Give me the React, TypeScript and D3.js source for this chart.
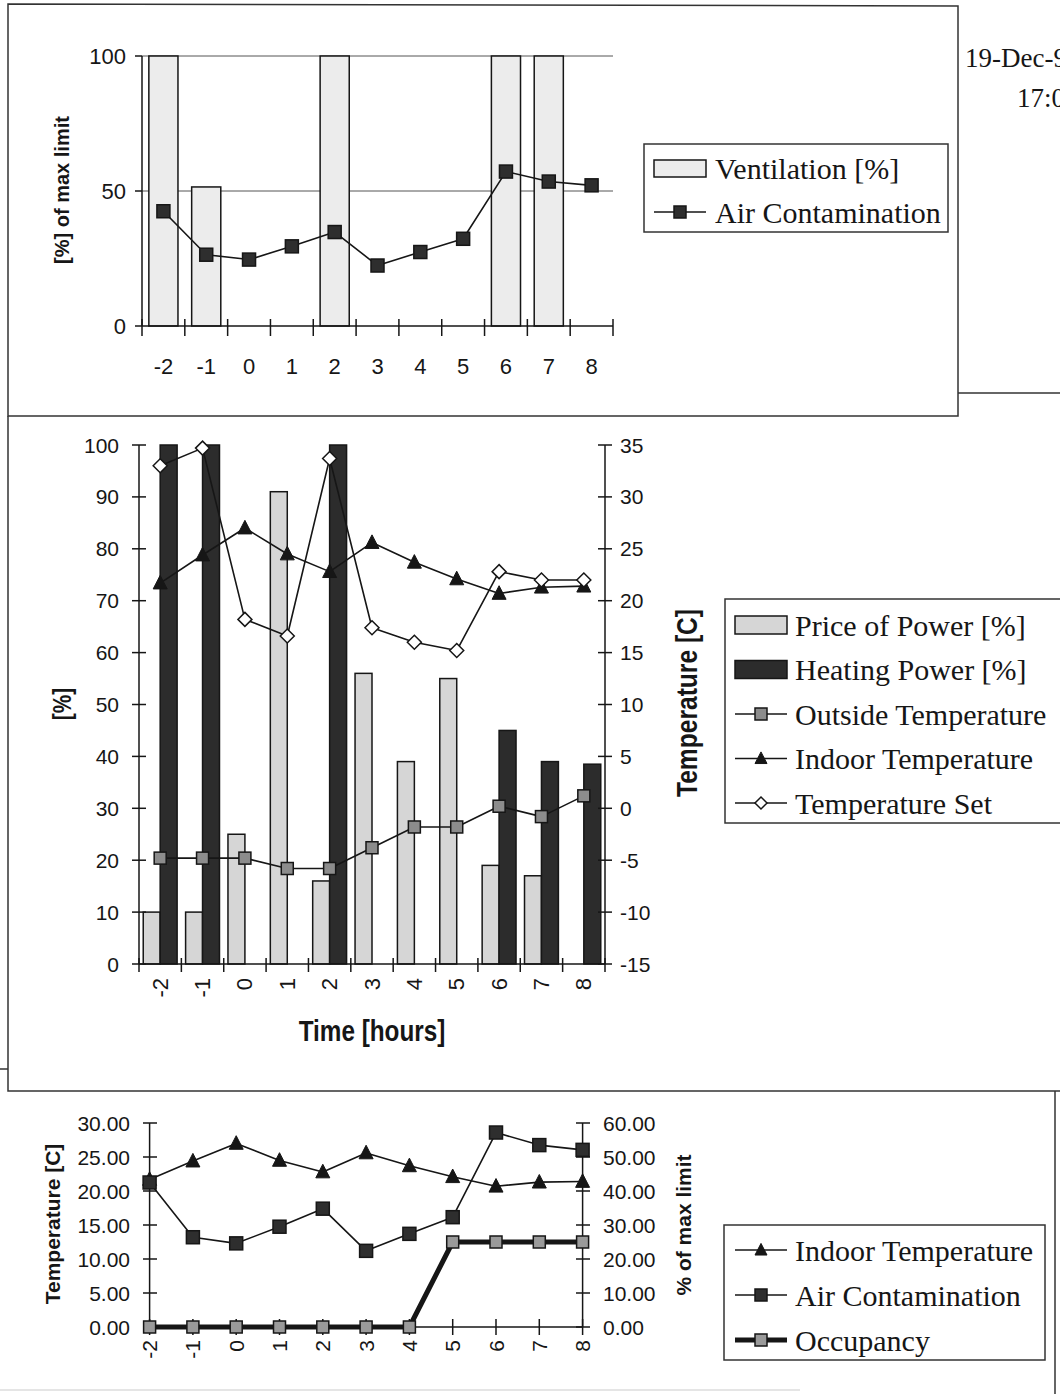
import { useEffect, useRef } from 'react';
import * as d3 from 'd3';

const hours = ['-2', '-1', '0', '1', '2', '3', '4', '5', '6', '7', '8'];

// top panel: ventilation vs air contamination
const ventilation = [100, 51.5, 0, 0, 100, 0, 0, 0, 100, 100, 0];
const airContamination = [42.5, 26.4, 24.6, 29.5, 34.8, 22.4, 27.4, 32.3, 57.2, 53.5, 52.1];
const topTicks = [0, 50, 100];

// middle panel: power bars + temperatures
const pricePower = [10, 10, 25, 91, 16, 56, 39, 55, 19, 17, 0];
const heatingPower = [100, 100, 0, 0, 100, 0, 0, 0, 45, 39, 38.5];
const outsideTemp = [-4.8, -4.8, -4.8, -5.8, -5.8, -3.8, -1.8, -1.8, 0.2, -0.8, 1.2];
const indoorTemp = [21.7, 24.4, 27.0, 24.5, 22.8, 25.6, 23.7, 22.1, 20.7, 21.3, 21.4];
const tempSet = [33.0, 34.7, 18.2, 16.6, 33.7, 17.4, 16.0, 15.2, 22.8, 22.0, 22.0];
const midLeftTicks = [0, 10, 20, 30, 40, 50, 60, 70, 80, 90, 100];
const midRightTicks = [-15, -10, -5, 0, 5, 10, 15, 20, 25, 30, 35];

// bottom panel: indoor temp, contamination, occupancy
const occupancy = [0, 0, 0, 0, 0, 0, 0, 25, 25, 25, 25];
const botLeftTicks = [0, 5, 10, 15, 20, 25, 30];
const botRightTicks = [0, 10, 20, 30, 40, 50, 60];

const SANS = "'Liberation Sans', Arial, sans-serif";
const SERIF = "'Liberation Serif', 'Times New Roman', serif";
const INK = '#161616';

type G = d3.Selection<SVGGElement, unknown, null, undefined>;

function marker(g: G, type: string, x: number, y: number, s: number, fill: string) {
  if (type === 'square') {
    g.append('rect')
      .attr('x', x - s / 2).attr('y', y - s / 2)
      .attr('width', s).attr('height', s)
      .attr('fill', fill).attr('stroke', INK).attr('stroke-width', 1.5);
  } else if (type === 'triangle') {
    g.append('path')
      .attr('d', `M${x},${y - s * 0.55}L${x + s / 2},${y + s * 0.42}L${x - s / 2},${y + s * 0.42}Z`)
      .attr('fill', fill).attr('stroke', INK).attr('stroke-width', 1);
  } else if (type === 'diamond') {
    g.append('path')
      .attr('d', `M${x},${y - s / 2}L${x + s / 2},${y}L${x},${y + s / 2}L${x - s / 2},${y}Z`)
      .attr('fill', fill).attr('stroke', INK).attr('stroke-width', 1.5);
  }
}

function series(g: G, xs: number[], ys: number[], type: string, size: number, fill: string, width = 1.6) {
  const pts = xs.map((x, i) => [x, ys[i]] as [number, number]);
  g.append('path')
    .attr('d', d3.line()(pts))
    .attr('fill', 'none').attr('stroke', INK).attr('stroke-width', width)
    .attr('stroke-linejoin', 'round');
  pts.forEach(([x, y]) => marker(g, type, x, y, size, fill));
}

function legendBox(g: G, x: number, y: number, w: number, h: number) {
  g.append('rect').attr('x', x).attr('y', y).attr('width', w).attr('height', h)
    .attr('fill', 'white').attr('stroke', '#333').attr('stroke-width', 1.5);
}

function legendText(g: G, x: number, y: number, label: string) {
  g.append('text').attr('x', x).attr('y', y).attr('dominant-baseline', 'central')
    .attr('font-family', SERIF).attr('font-size', 30).attr('fill', INK).text(label);
}

function legendLine(g: G, y: number, type: string, fill: string, width = 1.6) {
  g.append('line').attr('x1', 735).attr('x2', 787).attr('y1', y).attr('y2', y)
    .attr('stroke', INK).attr('stroke-width', width);
  marker(g, type, 761, y, 12, fill);
}

// bold axis title; squeeze < 1 narrows the glyphs along the text direction
function title(g: G, x: number, y: number, label: string, size: number, rotate: boolean, squeeze = 1) {
  g.append('text')
    .attr('transform', `translate(${x},${y})${rotate ? ' rotate(-90)' : ''} scale(${squeeze},1)`)
    .attr('text-anchor', 'middle').attr('dominant-baseline', 'central')
    .attr('font-family', SANS).attr('font-weight', 'bold').attr('font-size', size)
    .attr('fill', INK).text(label);
}

export default function App() {
  const ref = useRef<SVGSVGElement>(null);
  const width = 1060;
  const height = 1394;

  useEffect(() => {
    if (!ref.current) return;
    const svg = d3.select(ref.current);
    svg.selectAll('*').remove();
    const root = svg.append('g') as unknown as G;

    root.append('rect').attr('width', width).attr('height', height).attr('fill', 'white');

    // panel frames
    const frame = root.append('g').attr('fill', 'none').attr('stroke', '#333').attr('stroke-width', 1.5);
    frame.append('path').attr('d', 'M8,416L8,1091L1060,1091');
    frame.append('path').attr('d', 'M958,393L1060,393');
    frame.append('path').attr('d', 'M0,1069L8,1069');
    frame.append('path').attr('d', 'M1055,1091L1055,1394');
    frame.append('path').attr('d', 'M0,1390L800,1390').attr('stroke', '#ddd');
    frame.append('path').attr('d', 'M8,4L958,6L958,416L8,416Z');

    // date stamp (runs off the right edge, as in the scan)
    root.append('text').attr('x', 965).attr('y', 67).attr('font-family', SERIF)
      .attr('font-size', 27).attr('fill', INK).text('19-Dec-9');
    root.append('text').attr('x', 1017).attr('y', 107).attr('font-family', SERIF)
      .attr('font-size', 27).attr('fill', INK).text('17:0');

    // ---------- top panel ----------
    const gT = root.append('g') as unknown as G;
    const xT = d3.scaleBand<string>().domain(hours).range([142, 613]).paddingInner(0.32).paddingOuter(0.16);
    const yT = d3.scaleLinear().domain([0, 100]).range([326, 56]);
    const cT = (h: string) => (xT(h) as number) + xT.bandwidth() / 2;

    topTicks.filter(t => t > 0).forEach(t => {
      gT.append('line').attr('x1', 142).attr('x2', 613).attr('y1', yT(t)).attr('y2', yT(t))
        .attr('stroke', '#555').attr('stroke-width', 1);
    });
    hours.forEach((h, i) => {
      if (!ventilation[i]) return;
      gT.append('rect').attr('x', xT(h) as number).attr('y', yT(ventilation[i]))
        .attr('width', xT.bandwidth()).attr('height', yT(0) - yT(ventilation[i]))
        .attr('fill', '#ececec').attr('stroke', INK).attr('stroke-width', 1.5);
    });
    gT.append('line').attr('x1', 142).attr('x2', 142).attr('y1', 56).attr('y2', 326).attr('stroke', INK).attr('stroke-width', 1.5);
    gT.append('line').attr('x1', 142).attr('x2', 613).attr('y1', 326).attr('y2', 326).attr('stroke', INK).attr('stroke-width', 1.5);
    topTicks.forEach(t => {
      gT.append('line').attr('x1', 135).attr('x2', 142).attr('y1', yT(t)).attr('y2', yT(t)).attr('stroke', INK).attr('stroke-width', 1.5);
      gT.append('text').attr('x', 126).attr('y', yT(t)).attr('text-anchor', 'end').attr('dominant-baseline', 'central')
        .attr('font-family', SANS).attr('font-size', 22).attr('fill', INK).text(t);
    });
    d3.range(hours.length + 1).forEach(i => {
      const x = 142 + i * xT.step();
      gT.append('line').attr('x1', x).attr('x2', x).attr('y1', 319).attr('y2', 336).attr('stroke', INK).attr('stroke-width', 1.5);
    });
    hours.forEach(h => {
      gT.append('text').attr('x', cT(h)).attr('y', 366).attr('text-anchor', 'middle').attr('dominant-baseline', 'central')
        .attr('font-family', SANS).attr('font-size', 22).attr('fill', INK).text(h);
    });
    series(gT, hours.map(cT), airContamination.map(v => yT(v)), 'square', 13, '#2e2e2e');
    title(gT, 62, 190, '[%] of max limit', 20, true);

    legendBox(gT, 644, 144, 304, 88);
    gT.append('rect').attr('x', 654).attr('y', 160).attr('width', 52).attr('height', 17)
      .attr('fill', '#ececec').attr('stroke', INK).attr('stroke-width', 1.5);
    legendText(gT, 715, 168, 'Ventilation [%]');
    gT.append('line').attr('x1', 654).attr('x2', 706).attr('y1', 212).attr('y2', 212).attr('stroke', INK).attr('stroke-width', 1.6);
    marker(gT, 'square', 680, 212, 12, '#2e2e2e');
    legendText(gT, 715, 212, 'Air Contamination');

    // ---------- middle panel ----------
    const gM = root.append('g') as unknown as G;
    const xM = d3.scaleBand<string>().domain(hours).range([139, 605]).paddingInner(0.2).paddingOuter(0.1);
    const xSub = d3.scaleBand<string>().domain(['price', 'heating']).range([0, xM.bandwidth()]);
    const yML = d3.scaleLinear().domain([0, 100]).range([964, 445]);
    const yMR = d3.scaleLinear().domain([-15, 35]).range([964, 445]);
    const cM = (h: string) => (xM(h) as number) + xM.bandwidth() / 2;

    hours.forEach((h, i) => {
      const x0 = xM(h) as number;
      if (pricePower[i]) {
        gM.append('rect').attr('x', x0 + (xSub('price') as number)).attr('y', yML(pricePower[i]))
          .attr('width', xSub.bandwidth()).attr('height', yML(0) - yML(pricePower[i]))
          .attr('fill', '#d6d6d6').attr('stroke', INK).attr('stroke-width', 1.5);
      }
      if (heatingPower[i]) {
        gM.append('rect').attr('x', x0 + (xSub('heating') as number)).attr('y', yML(heatingPower[i]))
          .attr('width', xSub.bandwidth()).attr('height', yML(0) - yML(heatingPower[i]))
          .attr('fill', '#2c2c2c').attr('stroke', INK).attr('stroke-width', 1.5);
      }
    });

    gM.append('line').attr('x1', 139).attr('x2', 139).attr('y1', 445).attr('y2', 964).attr('stroke', INK).attr('stroke-width', 1.5);
    gM.append('line').attr('x1', 605).attr('x2', 605).attr('y1', 445).attr('y2', 964).attr('stroke', INK).attr('stroke-width', 1.5);
    gM.append('line').attr('x1', 139).attr('x2', 605).attr('y1', 964).attr('y2', 964).attr('stroke', INK).attr('stroke-width', 1.5);
    midLeftTicks.forEach(t => {
      gM.append('line').attr('x1', 132).attr('x2', 146).attr('y1', yML(t)).attr('y2', yML(t)).attr('stroke', INK).attr('stroke-width', 1.5);
      gM.append('text').attr('x', 119).attr('y', yML(t)).attr('text-anchor', 'end').attr('dominant-baseline', 'central')
        .attr('font-family', SANS).attr('font-size', 21).attr('fill', INK).text(t);
    });
    midRightTicks.forEach(t => {
      gM.append('line').attr('x1', 598).attr('x2', 612).attr('y1', yMR(t)).attr('y2', yMR(t)).attr('stroke', INK).attr('stroke-width', 1.5);
      gM.append('text').attr('x', 620).attr('y', yMR(t)).attr('dominant-baseline', 'central')
        .attr('font-family', SANS).attr('font-size', 21).attr('fill', INK).text(t);
    });
    d3.range(hours.length + 1).forEach(i => {
      const x = 139 + i * xM.step();
      gM.append('line').attr('x1', x).attr('x2', x).attr('y1', 958).attr('y2', 972).attr('stroke', INK).attr('stroke-width', 1.5);
    });
    hours.forEach(h => {
      gM.append('text').attr('transform', `translate(${cM(h)},978) rotate(-90)`)
        .attr('text-anchor', 'end').attr('dominant-baseline', 'central')
        .attr('font-family', SANS).attr('font-size', 22).attr('fill', INK).text(h);
    });

    series(gM, hours.map(cM), outsideTemp.map(v => yMR(v)), 'square', 12, '#8c8c8c');
    series(gM, hours.map(cM), indoorTemp.map(v => yMR(v)), 'triangle', 14, INK);
    series(gM, hours.map(cM), tempSet.map(v => yMR(v)), 'diamond', 14, 'white');

    title(gM, 372, 1031, 'Time [hours]', 30, false, 0.81);
    title(gM, 62, 704, '[%]', 26, true, 0.8);
    title(gM, 687, 703, 'Temperature [C]', 30, true, 0.82);

    legendBox(gM, 725, 599, 360, 224);
    const midLegendY = [625, 669.5, 714, 758.5, 803];
    gM.append('rect').attr('x', 735).attr('y', midLegendY[0] - 9).attr('width', 52).attr('height', 18)
      .attr('fill', '#d6d6d6').attr('stroke', INK).attr('stroke-width', 1.5);
    legendText(gM, 795, midLegendY[0], 'Price of Power [%]');
    gM.append('rect').attr('x', 735).attr('y', midLegendY[1] - 9).attr('width', 52).attr('height', 18)
      .attr('fill', '#2c2c2c').attr('stroke', INK).attr('stroke-width', 1.5);
    legendText(gM, 795, midLegendY[1], 'Heating Power [%]');
    legendLine(gM, midLegendY[2], 'square', '#8c8c8c');
    legendText(gM, 795, midLegendY[2], 'Outside Temperature');
    legendLine(gM, midLegendY[3], 'triangle', INK);
    legendText(gM, 795, midLegendY[3], 'Indoor Temperature');
    legendLine(gM, midLegendY[4], 'diamond', 'white');
    legendText(gM, 795, midLegendY[4], 'Temperature Set');

    // ---------- bottom panel ----------
    const gB = root.append('g') as unknown as G;
    const xB = d3.scalePoint<string>().domain(hours).range([149.6, 582.6]);
    const yBL = d3.scaleLinear().domain([0, 30]).range([1327, 1123]);
    const yBR = d3.scaleLinear().domain([0, 60]).range([1327, 1123]);

    gB.append('line').attr('x1', 149.6).attr('x2', 149.6).attr('y1', 1123).attr('y2', 1327).attr('stroke', INK).attr('stroke-width', 1.5);
    gB.append('line').attr('x1', 582.6).attr('x2', 582.6).attr('y1', 1123).attr('y2', 1327).attr('stroke', INK).attr('stroke-width', 1.5);
    gB.append('line').attr('x1', 149.6).attr('x2', 582.6).attr('y1', 1327).attr('y2', 1327).attr('stroke', INK).attr('stroke-width', 1.5);
    botLeftTicks.forEach(t => {
      gB.append('line').attr('x1', 143).attr('x2', 157).attr('y1', yBL(t)).attr('y2', yBL(t)).attr('stroke', INK).attr('stroke-width', 1.5);
      gB.append('text').attr('x', 130).attr('y', yBL(t)).attr('text-anchor', 'end').attr('dominant-baseline', 'central')
        .attr('font-family', SANS).attr('font-size', 21).attr('fill', INK).text(d3.format('.2f')(t));
    });
    botRightTicks.forEach(t => {
      gB.append('line').attr('x1', 576).attr('x2', 590).attr('y1', yBR(t)).attr('y2', yBR(t)).attr('stroke', INK).attr('stroke-width', 1.5);
      gB.append('text').attr('x', 603).attr('y', yBR(t)).attr('dominant-baseline', 'central')
        .attr('font-family', SANS).attr('font-size', 21).attr('fill', INK).text(d3.format('.2f')(t));
    });
    hours.forEach(h => {
      const x = xB(h) as number;
      gB.append('line').attr('x1', x).attr('x2', x).attr('y1', 1319).attr('y2', 1335).attr('stroke', INK).attr('stroke-width', 1.5);
      gB.append('text').attr('transform', `translate(${x},1340) rotate(-90)`)
        .attr('text-anchor', 'end').attr('dominant-baseline', 'central')
        .attr('font-family', SANS).attr('font-size', 21).attr('fill', INK).text(h);
    });

    const xsB = hours.map(h => xB(h) as number);
    series(gB, xsB, indoorTemp.map(v => yBL(v)), 'triangle', 14, INK);
    series(gB, xsB, airContamination.map(v => yBR(v)), 'square', 13, '#2e2e2e');
    series(gB, xsB, occupancy.map(v => yBR(v)), 'square', 12, '#9a9a9a', 5);

    title(gB, 52, 1224, 'Temperature [C]', 21, true);
    title(gB, 683, 1225, '% of max limit', 21, true);

    legendBox(gB, 724, 1225, 321, 135);
    legendLine(gB, 1250, 'triangle', INK);
    legendText(gB, 795, 1250, 'Indoor Temperature');
    legendLine(gB, 1295, 'square', '#2e2e2e');
    legendText(gB, 795, 1295, 'Air Contamination');
    legendLine(gB, 1340, 'square', '#9a9a9a', 5);
    legendText(gB, 795, 1340, 'Occupancy');
  }, []);

  return (
    <svg
      ref={ref}
      width={width}
      height={height}
      viewBox={`0 0 ${width} ${height}`}
      style={{ position: 'absolute', left: 0, top: 0, display: 'block' }}
    />
  );
}
